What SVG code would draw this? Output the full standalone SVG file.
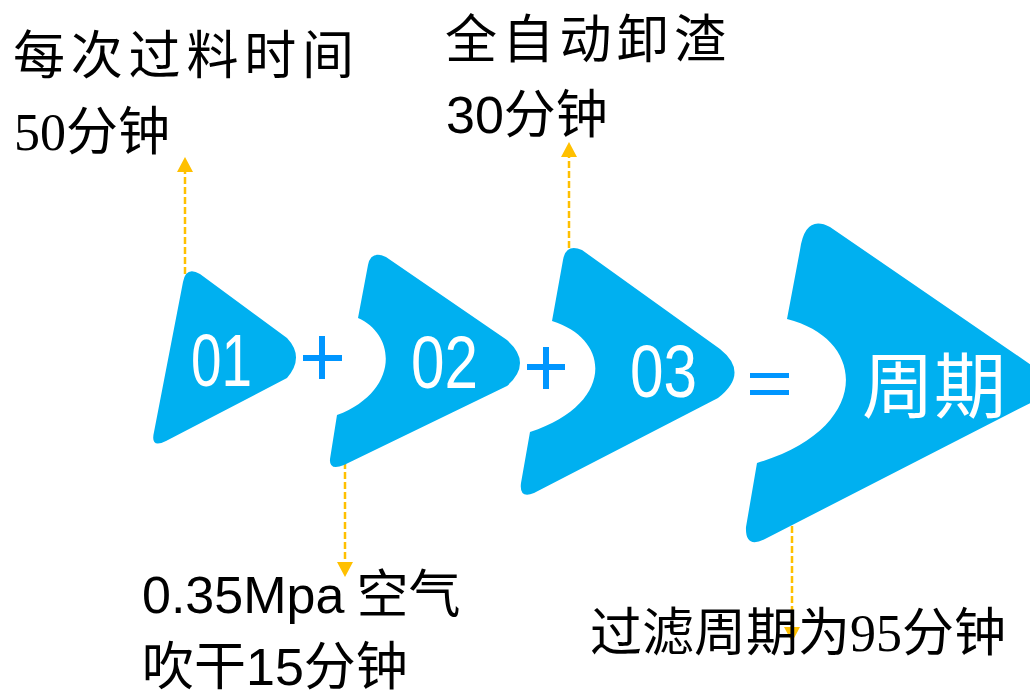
<svg xmlns="http://www.w3.org/2000/svg" width="1030" height="694" viewBox="0 0 1030 694">
<style>
.shape{fill:#00B0F0}
.num{fill:#fff;font-family:"Liberation Sans",Arial,sans-serif;font-size:74px}
.big{fill:#fff;font-family:"Noto Sans CJK SC",sans-serif;font-size:72px}
.op{fill:#0096FF}
.lbl{fill:#000;font-family:"Liberation Serif","Noto Sans CJK SC",serif;font-size:52px}
.sans{font-family:"Liberation Sans","Noto Sans CJK SC",sans-serif}
.conn{stroke:#FFC000;stroke-width:2.5;stroke-dasharray:7 3;fill:none}
</style>
<defs>
<marker id="ah" viewBox="0 0 15 16" refX="0" refY="8" markerWidth="15" markerHeight="16" markerUnits="userSpaceOnUse" orient="auto">
<path d="M0,0 L15,8 L0,16 Z" fill="#FFC000"/>
</marker>
</defs>
<rect width="1030" height="694" fill="#fff"/>
<g id="connectors">
<line class="conn" x1="185" y1="274" x2="185" y2="172" marker-end="url(#ah)"/>
<line class="conn" x1="569" y1="258" x2="569" y2="157" marker-end="url(#ah)"/>
<line class="conn" x1="345" y1="462" x2="345" y2="562" marker-end="url(#ah)"/>
<line class="conn" x1="792" y1="526" x2="792" y2="627" marker-end="url(#ah)"/>
</g>
<g id="node01">
<path class="shape" d="M183,282 Q186,266 200,274 L287,338 Q305,357 287,378 L166,441 Q150,449 154,432 Z"/>
<text class="num" x="191" y="386" textLength="61" lengthAdjust="spacingAndGlyphs">01</text>
</g>
<g id="node02">
<path class="shape" d="M368,265 Q371,250 386,257 L507,340 Q533,363 507,386 L344,465 Q329,471 330,459 L337,415 C398,392 398,336 358,318 Z"/>
<text class="num" x="411" y="388" textLength="67" lengthAdjust="spacingAndGlyphs">02</text>
</g>
<g id="node03">
<path class="shape" d="M563,260 Q566,243 582,250 L720,349 Q750,373 718,398 L534,493 Q519,499 521,483 L530,432 C613,405 613,340 552,321 Z"/>
<text class="num" x="630" y="397" textLength="67" lengthAdjust="spacingAndGlyphs">03</text>
</g>
<g id="node-period">
<path class="shape" d="M800,250 Q805,214 830,227 L1040,371 Q1070,386 1040,398 L765,539 Q745,549 746,527 L757,463 C870,430 870,340 787,319 Z"/>
<text class="big" x="862" y="412">周期</text>
</g>
<g id="operators">
<rect class="op" x="303" y="355" width="39" height="6"/>
<rect class="op" x="319" y="336" width="6" height="43"/>
<rect class="op" x="527" y="364" width="38" height="6"/>
<rect class="op" x="543" y="347" width="6" height="42"/>
<rect class="op" x="750" y="373" width="39" height="5"/>
<rect class="op" x="750" y="390" width="39" height="5"/>
</g>
<g id="label-feed">
<text class="lbl" x="13" y="74" textLength="341" lengthAdjust="spacing">每次过料时间</text>
<text class="lbl" x="14" y="150">50分钟</text>
</g>
<g id="label-discharge">
<text class="lbl" x="445" y="58" textLength="281" lengthAdjust="spacing">全自动卸渣</text>
<text class="lbl" x="446" y="133"><tspan class="sans">30</tspan>分钟</text>
</g>
<g id="label-dry">
<text class="lbl" x="142" y="613"><tspan class="sans">0.35Mpa</tspan><tspan dx="12">空气</tspan></text>
<text class="lbl" x="142" y="685">吹干<tspan class="sans">15</tspan>分钟</text>
</g>
<g id="label-cycle">
<text class="lbl" x="590" y="651">过滤周期为95分钟</text>
</g>
</svg>
